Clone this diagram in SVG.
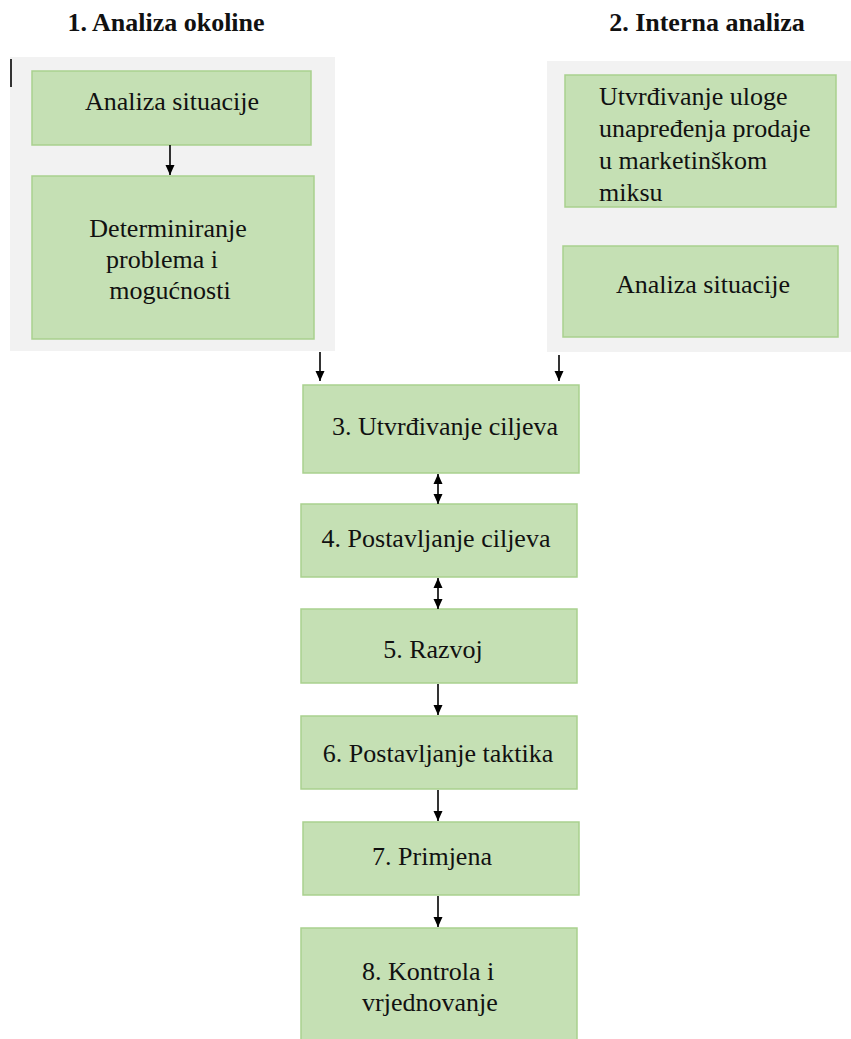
<svg xmlns="http://www.w3.org/2000/svg" width="851" height="1039" viewBox="0 0 851 1039">
<style>
.panel{fill:#f2f2f2}
.box{fill:#c5e0b4;stroke:#a9d18e;stroke-width:1.5}
.t{font-family:'Liberation Serif','Times New Roman','DejaVu Serif',serif;font-size:26px;fill:#111}
.c{text-anchor:middle}
.h{font-family:'Liberation Serif','Times New Roman','DejaVu Serif',serif;font-size:26px;font-weight:bold;fill:#111;text-anchor:middle}
.ln{stroke:#000;stroke-width:1.6;fill:none}
</style>
<defs>
<marker id="ah" viewBox="0 0 10 10" refX="10" refY="5" markerWidth="10" markerHeight="10" orient="auto" markerUnits="userSpaceOnUse"><path d="M0,0.5 L10,5 L0,9.5 z" fill="#000"/></marker>
<marker id="as" viewBox="0 0 10 10" refX="0" refY="5" markerWidth="10" markerHeight="10" orient="auto" markerUnits="userSpaceOnUse"><path d="M10,0.5 L0,5 L10,9.5 z" fill="#000"/></marker>
</defs>
<rect width="851" height="1039" fill="#fff"/>
<g id="title1"><text class="h" x="166" y="31">1. Analiza okoline</text></g>
<g id="title2"><text class="h" x="707" y="31">2. Interna analiza</text></g>
<g id="panel1"><rect class="panel" x="10" y="57" width="325" height="294"/><line x1="11" y1="59" x2="11" y2="87" stroke="#333" stroke-width="2"/></g>
<g id="panel2"><rect class="panel" x="547" y="61" width="304" height="291"/></g>
<g id="n1a"><rect class="box" x="32" y="71" width="279" height="74"/><text class="t c" x="172" y="110">Analiza situacije</text></g>
<g id="n1b"><rect class="box" x="32" y="176" width="282" height="163"/><text class="t c" x="168" y="237">Determiniranje</text><text class="t c" x="162" y="268">problema i</text><text class="t c" x="170" y="299">mogućnosti</text></g>
<g id="n2a"><rect class="box" x="565" y="75" width="271" height="132"/><text class="t" x="599" y="105">Utvrđivanje uloge</text><text class="t" x="599" y="137">unapređenja prodaje</text><text class="t" x="599" y="169">u marketinškom</text><text class="t" x="599" y="201">miksu</text></g>
<g id="n2b"><rect class="box" x="563" y="246" width="275" height="91"/><text class="t c" x="703" y="293">Analiza situacije</text></g>
<g id="n3"><rect class="box" x="303" y="385" width="276" height="88"/><text class="t c" x="445" y="435">3. Utvrđivanje ciljeva</text></g>
<g id="n4"><rect class="box" x="301" y="504" width="276" height="73"/><text class="t c" x="436" y="547">4. Postavljanje ciljeva</text></g>
<g id="n5"><rect class="box" x="301" y="609" width="276" height="74"/><text class="t c" x="433" y="658">5. Razvoj</text></g>
<g id="n6"><rect class="box" x="301" y="716" width="276" height="73"/><text class="t c" x="438" y="762">6. Postavljanje taktika</text></g>
<g id="n7"><rect class="box" x="303" y="822" width="276" height="73"/><text class="t c" x="432" y="865">7. Primjena</text></g>
<g id="n8"><rect class="box" x="301" y="928" width="276" height="120"/><text class="t" x="362" y="980">8. Kontrola i</text><text class="t" x="362" y="1011">vrjednovanje</text></g>
<g id="connectors">
<line class="ln" x1="170" y1="145" x2="170" y2="175" marker-end="url(#ah)"/>
<line class="ln" x1="320" y1="352" x2="320" y2="381" marker-end="url(#ah)"/>
<line class="ln" x1="559" y1="355" x2="559" y2="381" marker-end="url(#ah)"/>
<line class="ln" x1="438" y1="474" x2="438" y2="504" marker-start="url(#as)" marker-end="url(#ah)"/>
<line class="ln" x1="438" y1="578" x2="438" y2="609" marker-start="url(#as)" marker-end="url(#ah)"/>
<line class="ln" x1="438" y1="684" x2="438" y2="715" marker-end="url(#ah)"/>
<line class="ln" x1="438" y1="790" x2="438" y2="821" marker-end="url(#ah)"/>
<line class="ln" x1="438" y1="896" x2="438" y2="927" marker-end="url(#ah)"/>
</g>
</svg>
